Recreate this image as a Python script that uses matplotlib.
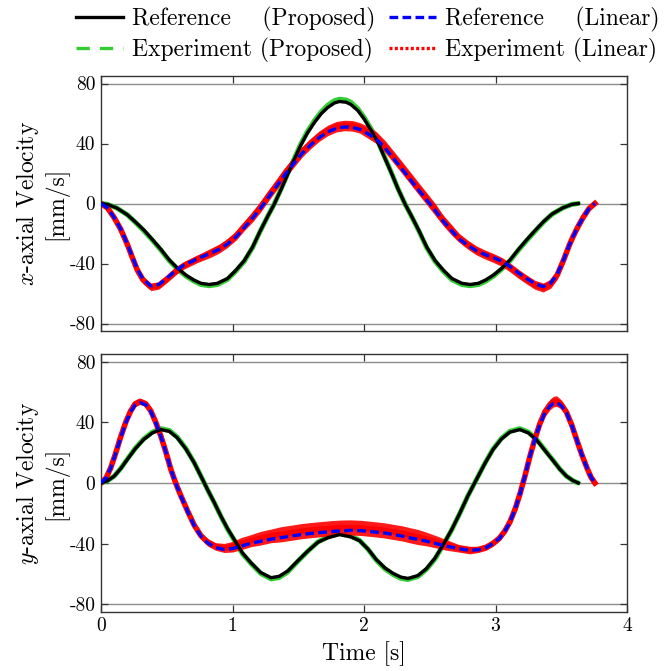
import matplotlib
matplotlib.use("Agg")
import matplotlib.pyplot as plt
from matplotlib.lines import Line2D
import numpy as np

# ---- data -----------------------------------------------------------
# x-axial velocity, proposed method (reference + experiment)
t_xp = [0, 0.05, 0.12, 0.2, 0.264, 0.324, 0.391, 0.455, 0.518, 0.58,
        0.645, 0.705, 0.76, 0.823, 0.886, 0.962, 1.026, 1.09, 1.153, 1.21,
        1.265, 1.317, 1.37, 1.42, 1.47, 1.52, 1.57, 1.623, 1.674, 1.724,
        1.775, 1.813, 1.864, 1.9, 1.953, 2.0, 2.06, 2.11, 2.16, 2.21,
        2.26, 2.313, 2.365, 2.42, 2.477, 2.54, 2.604, 2.668, 2.744, 2.807,
        2.87, 2.925, 2.985, 3.05, 3.112, 3.175, 3.239, 3.306, 3.366, 3.43,
        3.51, 3.58, 3.63]
vx_ref_p = [0, -0.6, -3, -7.5, -12.5, -17.5, -24, -30.5, -37.5, -43,
            -47.7, -51, -53.2, -54, -53.2, -50, -44.5, -38, -29, -18.5,
            -9, -0.5, 9.5, 19.5, 29.5, 39, 47, 54, 59.8, 64,
            67, 68, 67.5, 66, 62, 56.5, 48, 40, 30, 20,
            9.5, -0.5, -9, -18.5, -29, -38, -44.5, -50, -53.2, -54,
            -53.2, -51, -47.7, -43, -37.5, -30.5, -24, -17.5, -12, -7,
            -3, -0.6, 0]
vx_exp_p = [0, -0.6, -3, -7.5, -12.8, -18, -24.5, -31, -38, -43.5,
            -48.3, -51.6, -54, -54.8, -54, -50.6, -45, -38.5, -29.3, -18.6,
            -9, -0.4, 9.8, 20, 30, 39.8, 48, 55.2, 61, 65.5,
            68.5, 69.5, 69, 67.5, 63.2, 57.5, 48.8, 40.5, 30.3, 20.2,
            9.5, -0.5, -9.2, -18.8, -29.5, -38.5, -45.2, -50.8, -54, -54.8,
            -54, -51.8, -48.3, -43.5, -38, -31, -24.5, -18, -12.3, -7.2,
            -3, -0.6, 0]

# x-axial velocity, linear method
t_xl = [0, 0.05, 0.1, 0.15, 0.2, 0.24, 0.277, 0.32, 0.379, 0.44,
        0.505, 0.57, 0.632, 0.73, 0.836, 0.9, 0.962, 1.03, 1.09, 1.155,
        1.217, 1.28, 1.344, 1.405, 1.47, 1.53, 1.594, 1.66, 1.724, 1.79,
        1.85, 1.91, 1.966, 2.03, 2.093, 2.16, 2.22, 2.28, 2.343, 2.41,
        2.474, 2.54, 2.6, 2.66, 2.724, 2.79, 2.855, 2.92, 2.981, 3.05,
        3.109, 3.17, 3.236, 3.3, 3.362, 3.42, 3.47, 3.52, 3.56, 3.59,
        3.63, 3.667, 3.71, 3.756]
vx_ref_l = [0, -3, -9.3, -17, -26.9, -36, -44, -50.5, -55, -54,
            -49.5, -44.5, -41, -37, -33, -30.5, -27, -22, -16, -9.5,
            -2.7, 5, 12.6, 20, 27, 33.5, 39, 44, 47.7, 50.2,
            51, 50.8, 49.5, 46.5, 43, 37, 30.5, 24, 17, 9.5,
            2.7, -4.5, -11.5, -17.5, -23.6, -28, -31.5, -34, -36, -38.5,
            -42, -46, -50, -53.5, -55.4, -53, -47, -37, -28, -22,
            -15, -9.3, -3.5, 0]
vx_exp_l = [0, -3, -9.4, -17.2, -27.2, -36.4, -44.5, -51, -55.6, -54.6,
            -50, -45, -41.2, -37, -32.8, -30, -26.3, -21.2, -15, -8.6,
            -1.8, 6, 13.5, 21, 28, 34.5, 40, 45, 48.7, 51.2,
            52, 51.8, 50.5, 47.5, 44, 38, 31.5, 25, 18, 10.5,
            3.5, -3.8, -11, -17, -23, -27.5, -31.3, -34, -36.2, -39,
            -42.5, -46.6, -50.6, -54.2, -56, -53.5, -47.5, -37.2, -28, -22,
            -15, -9.3, -3.5, 0]
vx_spread_l = [0.5, 1, 1.5, 1.5, 2, 2, 2, 2.5, 2.5, 2.5,
               2.5, 2.5, 2.5, 2.5, 3, 3, 3, 3, 3, 3.5,
               3.5, 3.5, 3.5, 3.5, 3.5, 3.5, 3.5, 3.5, 3.5, 3.5,
               3.5, 3.5, 3.5, 4, 4, 4, 4, 4, 4, 4,
               4, 4, 3.5, 3.5, 3, 3, 3, 3, 3, 3,
               3, 3, 3, 3, 3, 3, 3, 3, 2.5, 2.5,
               2, 1.5, 1, 0.5]

# y-axial velocity, proposed method
t_yp = [0, 0.05, 0.1, 0.15, 0.2, 0.26, 0.324, 0.39, 0.455, 0.52,
        0.58, 0.645, 0.709, 0.76, 0.81, 0.862, 0.912, 0.962, 1.013, 1.075,
        1.14, 1.215, 1.293, 1.355, 1.42, 1.5, 1.572, 1.65, 1.724, 1.813,
        1.9, 1.966, 2.03, 2.093, 2.16, 2.22, 2.28, 2.334, 2.41, 2.474,
        2.54, 2.6, 2.665, 2.728, 2.79, 2.855, 2.92, 2.981, 3.045, 3.109,
        3.185, 3.25, 3.31, 3.375, 3.44, 3.49, 3.54, 3.59, 3.63]
vy_ref_p = [0, 1.5, 4.5, 9.5, 15.5, 22.5, 28.6, 33, 35.2, 34,
            29.8, 22.5, 13.3, 4.5, -4.3, -13, -21.9, -30, -37.2, -46,
            -52.5, -59, -62.4, -61.5, -58, -51, -44.9, -39, -36.1, -34,
            -35.5, -38, -43.5, -50.4, -56, -59.5, -62, -62.9, -61, -56.5,
            -49.5, -41, -31, -20, -8.5, 2.3, 13, 22, 29, 33.5,
            35.2, 33, 28.6, 21.5, 14.5, 9, 4.5, 1.5, 0]
vy_exp_p = [0, 1.5, 4.5, 9.6, 15.7, 22.8, 29, 33.5, 35.8, 34.6,
            30.2, 22.8, 13.4, 4.5, -4.3, -13.1, -22, -30.3, -37.6, -46.5,
            -53, -59.6, -63.2, -62.3, -58.6, -51.3, -45, -38.8, -35.6, -33.2,
            -35, -37.8, -43.6, -50.8, -56.6, -60.2, -62.8, -63.6, -61.6, -57,
            -50, -41.3, -31.2, -20.1, -8.5, 2.3, 13.1, 22.3, 29.4, 34,
            35.8, 33.5, 29, 21.8, 14.7, 9.1, 4.5, 1.5, 0]

# y-axial velocity, linear method
t_yl = [0, 0.04, 0.074, 0.11, 0.15, 0.19, 0.226, 0.26, 0.297, 0.34,
        0.379, 0.415, 0.455, 0.495, 0.531, 0.57, 0.608, 0.66, 0.709, 0.76,
        0.81, 0.87, 0.937, 1.0, 1.064, 1.14, 1.217, 1.295, 1.369, 1.445,
        1.52, 1.6, 1.673, 1.75, 1.825, 1.9, 1.978, 2.093, 2.16, 2.22,
        2.29, 2.347, 2.41, 2.474, 2.55, 2.626, 2.72, 2.804, 2.87, 2.93,
        2.98, 3.03, 3.07, 3.109, 3.15, 3.185, 3.225, 3.26, 3.3, 3.337,
        3.375, 3.413, 3.44, 3.464, 3.5, 3.54, 3.58, 3.617, 3.655, 3.693,
        3.725, 3.756]
vy_ref_l = [0, 3.5, 10, 19, 30, 40, 47, 51.5, 53, 51.5,
            47, 40, 30.8, 20, 9, -0.5, -8.7, -19, -28, -35,
            -39.4, -42.5, -43.8, -43.2, -41.6, -39.8, -38.3, -37, -36, -35,
            -34, -33.2, -32.6, -32, -31.5, -31.2, -31.4, -32.4, -33, -33.9,
            -35, -36.1, -37.2, -38.3, -40, -41.6, -43.3, -44.4, -44, -42.5,
            -40, -36.5, -32, -26, -17, -7.5, 5, 17, 29, 38.5,
            46, 50.6, 52.5, 53, 51, 46.2, 38, 28.6, 19, 10.5,
            4, 0]
vy_exp_l = [0, 3.5, 10, 19.2, 30.5, 40.5, 47.5, 52.2, 53.8, 52.2,
            47.5, 40.3, 31, 20, 9, -0.5, -8.5, -18.8, -27.8, -34.7,
            -39, -41.8, -42.8, -42, -40, -38, -36.3, -34.8, -33.8, -32.8,
            -31.8, -31, -30.4, -29.8, -29.4, -29.3, -29.6, -30.6, -31.3, -32.2,
            -33.2, -34.4, -35.6, -36.9, -38.8, -40.8, -43, -44.2, -43.8, -42.3,
            -39.8, -36.3, -31.8, -25.8, -17, -7.5, 5, 17, 29.2, 39,
            46.8, 51.6, 53.6, 54, 51.8, 46.6, 38.2, 28.6, 19, 10.5,
            4, 0]
vy_spread_l = [0.5, 0.5, 1, 1, 1.5, 1.5, 1.5, 2, 2, 2,
               2, 2, 2, 2, 2, 2, 2, 2, 2, 2,
               2.5, 2.5, 3, 3.5, 4, 4, 4.5, 4.5, 5, 5,
               5, 5, 5, 5, 5, 5, 5, 5, 5, 5,
               5, 5, 5, 4.5, 4, 3.5, 2.5, 2.5, 2, 2,
               2, 2, 2, 2, 2, 2, 2, 2, 2, 2.5,
               3, 3.5, 3.5, 3.5, 3, 2.5, 2, 2, 1.5, 1,
               0.5, 0.5]

y_ticks = [-80, -40, 0, 40, 80]
x_ticks = [0, 1, 2, 3, 4]

# ---- style ------------------------------------------------------------
plt.rcParams["font.family"] = "cmr10"
plt.rcParams["mathtext.fontset"] = "cm"
plt.rcParams["axes.unicode_minus"] = False

GREEN = "#33cc33"
LW = 2.4

fig = plt.figure(figsize=(6.66, 6.71), dpi=100)
ax1 = fig.add_axes([101 / 666, 1 - 331 / 671, 526 / 666, 255 / 671])
ax2 = fig.add_axes([101 / 666, 1 - 612 / 671, 526 / 666, 258 / 671])


def draw(ax, tp, ref_p, exp_p, tl, ref_l, exp_l, spread_l):
    for yv in (-80, 0, 80):
        ax.axhline(yv, color="#8c8c8c", lw=1.0, zorder=1)
    exp_l = np.asarray(exp_l)
    spread_l = np.asarray(spread_l)
    ax.plot(tp, exp_p, color=GREEN, lw=3.6, solid_capstyle="round", zorder=2)
    ax.fill_between(tl, exp_l - spread_l, exp_l + spread_l,
                    color="red", lw=0, alpha=0.9, zorder=2)
    ax.plot(tl, exp_l, color="red", lw=4.0, zorder=2)
    ax.plot(tp, ref_p, color="black", lw=LW, zorder=3)
    ax.plot(tl, ref_l, color="blue", lw=LW, dashes=(2.6, 1.3), zorder=4)

    ax.set_xlim(0, 4)
    ax.set_ylim(-85, 85)
    ax.set_yticks(y_ticks)
    ax.set_yticklabels([str(v) for v in y_ticks])
    ax.set_xticks(x_ticks)
    ax.tick_params(direction="in", length=5, width=0.9, color="#333333",
                   labelsize=14, top=True, right=True, pad=4)
    for spine in ax.spines.values():
        spine.set_edgecolor("#333333")
        spine.set_linewidth(1.0)


draw(ax1, t_xp, vx_ref_p, vx_exp_p, t_xl, vx_ref_l, vx_exp_l, vx_spread_l)
draw(ax2, t_yp, vy_ref_p, vy_exp_p, t_yl, vy_ref_l, vy_exp_l, vy_spread_l)

ax1.set_xticklabels([])
ax2.set_xticklabels([str(v) for v in x_ticks])
ax1.set_ylabel("$x$-axial Velocity\n[mm/s]", fontsize=17, labelpad=1,
               multialignment="center", linespacing=1.1)
ax2.set_ylabel("$y$-axial Velocity\n[mm/s]", fontsize=17, labelpad=1,
               multialignment="center", linespacing=1.1)
ax2.set_xlabel("Time [s]", fontsize=17, labelpad=4)

# ---- legend (proxy handles) -------------------------------------------
handles = [
    Line2D([], [], color="black", lw=LW),
    Line2D([], [], color=GREEN, lw=LW, dashes=(4, 3)),
    Line2D([], [], color="blue", lw=LW, dashes=(2.6, 1.3)),
    Line2D([], [], color="red", lw=LW, dashes=(0.9, 0.7)),
]
labels = [
    "Reference    (Proposed)",
    "Experiment (Proposed)",
    "Reference    (Linear)",
    "Experiment (Linear)",
]
fig.legend(handles, labels, ncol=2, loc="upper center",
           bbox_to_anchor=(0.552, 1.004), frameon=False, fontsize=17,
           handlelength=2.0, handletextpad=0.35, columnspacing=0.6,
           labelspacing=0.25, borderaxespad=0.0)

fig.savefig("out.png", dpi=100)
